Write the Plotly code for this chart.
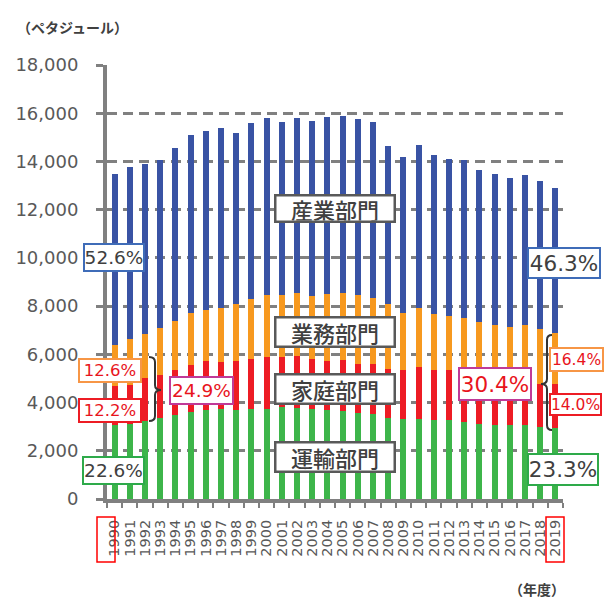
import plotly.graph_objects as go

years = [str(y) for y in range(1990, 2020)]
# energy consumption by sector (PJ)
transport = [3050, 3100, 3240, 3340, 3480, 3590, 3710, 3730, 3710, 3750,
             3750, 3820, 3780, 3730, 3710, 3640, 3570, 3510, 3370, 3310,
             3330, 3260, 3280, 3190, 3120, 3080, 3060, 3050, 2990, 2950]
household = [1620, 1640, 1760, 1790, 1860, 1960, 2000, 1950, 2000, 2050,
             2140, 2070, 2140, 2070, 2000, 2110, 2050, 2070, 2040, 2030,
             2150, 2080, 2090, 2010, 1930, 1900, 1840, 1900, 1760, 1820]
commercial = [1700, 1900, 1830, 1950, 2040, 2160, 2130, 2260, 2380, 2490,
              2560, 2560, 2610, 2600, 2780, 2790, 2830, 2770, 2660, 2390,
              2430, 2350, 2220, 2320, 2280, 2220, 2220, 2250, 2290, 2110]
industry = [7130, 7120, 7070, 6980, 7180, 7390, 7440, 7430, 7090, 7290,
            7350, 7170, 7280, 7290, 7370, 7330, 7310, 7300, 6590, 6470,
            6770, 6580, 6510, 6540, 6320, 6280, 6200, 6240, 6140, 6020]

series_names = ["運輸部門", "家庭部門", "業務部門", "産業部門"]
colors = ["#3DB54A", "#ED1C24", "#F7991F", "#3953A4"]

W, H = 614, 598
ML, MR, MT, MB = 107, 51, 65, 99


def px(x):
    return (x - ML) / (W - ML - MR)


def py(y):
    return (H - MB - y) / (H - MT - MB)


NUMFONT = "DejaVu Sans"
JPFONT = "Noto Sans CJK JP"

fig = go.Figure()
for name, vals, col in zip(series_names, [transport, household, commercial, industry], colors):
    fig.add_trace(go.Bar(x=years, y=vals, name=name, marker=dict(color=col, line=dict(width=0))))

annotations = []
shapes = []


def box(text, x0, x1, y0, y1, border, color, size, font=NUMFONT, bw=2, weight="normal"):
    annotations.append(dict(
        x=px((x0 + x1) / 2), y=py((y0 + y1) / 2), xref="paper", yref="paper",
        xanchor="center", yanchor="middle", text=text, showarrow=False,
        font=dict(family=font, size=size, color=color, weight=weight),
        bgcolor="white", bordercolor=border, borderwidth=bw, borderpad=0,
        width=(x1 - x0) - 2 * bw, height=(y1 - y0) - 2 * bw, align="center", valign="middle"))


GREY_T = "#404040"
RED_T = "#E8141C"
# sector labels
for t, y0, y1 in [("産業部門", 194, 223), ("業務部門", 316, 348), ("家庭部門", 373, 405), ("運輸部門", 441, 473)]:
    box(t, 274, 396, y0, y1, "#595959", GREY_T, 22, JPFONT, bw=2.5, weight=500)

# percentage labels
box("52.6%", 83, 145, 243, 272, "#3F6CB8", GREY_T, 18.5)
box("12.6%", 78, 142, 358, 383, "#F79646", RED_T, 16.5)
box("12.2%", 78, 142, 398, 423, "#ED1C24", RED_T, 16.5)
box("22.6%", 82, 145, 456, 485, "#2EAA4A", GREY_T, 18.5)
box("24.9%", 169, 234, 376, 405, "#C03A98", RED_T, 18.5)
box("46.3%", 527, 601, 247, 279, "#3F6CB8", GREY_T, 21.5)
box("16.4%", 549, 604, 347, 372, "#F79646", RED_T, 15.5)
box("14.0%", 549, 602, 393, 416, "#ED1C24", RED_T, 15.5)
box("30.4%", 458, 532, 367, 401, "#C03A98", RED_T, 21.5)
box("23.3%", 527, 599, 453, 486, "#2EAA4A", GREY_T, 21.5)

annotations.append(dict(x=px(72), y=py(27), xref="paper", yref="paper", xanchor="center", yanchor="middle",
                        text="<b>（ペタジュール）</b>", showarrow=False,
                        font=dict(family=JPFONT, size=14, color=GREY_T)))
annotations.append(dict(x=px(537), y=py(589), xref="paper", yref="paper", xanchor="center", yanchor="middle",
                        text="<b>（年度）</b>", showarrow=False,
                        font=dict(family=JPFONT, size=14, color=GREY_T)))


def brace_path(pts):
    out = []
    for cmd, coords in pts:
        s = " ".join(f"{px(coords[i]):.5f},{py(coords[i + 1]):.5f}" for i in range(0, len(coords), 2))
        out.append(f"{cmd} {s}")
    return " ".join(out)


# right-pointing brace (left side)
p1 = brace_path([("M", [149, 357]), ("Q", [155, 357, 155, 362]), ("L", [155, 385]),
                 ("Q", [155, 390, 161, 390]), ("Q", [155, 390, 155, 395]), ("L", [155, 416]),
                 ("Q", [155, 421, 149, 421])])
# left-pointing brace (right side)
p2 = brace_path([("M", [552, 335]), ("Q", [547, 335, 547, 340]), ("L", [547, 379]),
                 ("Q", [547, 384, 541, 384]), ("Q", [547, 384, 547, 389]), ("L", [547, 425]),
                 ("Q", [547, 430, 552, 430])])
for p in (p1, p2):
    shapes.append(dict(type="path", path=p, xref="paper", yref="paper", line=dict(color="#333333", width=2)))

# red boxes around first and last year labels
for x0, x1 in [(97, 115), (546, 564)]:
    shapes.append(dict(type="rect", xref="paper", yref="paper", x0=px(x0), x1=px(x1), y0=py(517), y1=py(562),
                       line=dict(color="#FF0000", width=1.5), fillcolor="rgba(0,0,0,0)"))

fig.update_layout(
    barmode="stack", bargap=0.6, showlegend=False,
    width=W, height=H, margin=dict(l=ML, r=MR, t=MT, b=MB, autoexpand=False),
    paper_bgcolor="white", plot_bgcolor="white",
    annotations=annotations, shapes=shapes,
    xaxis=dict(type="category", tickmode="array", tickvals=years, ticktext=years, tickangle=-90,
               showline=True, linecolor="#808080", linewidth=4,
               ticks="outside", tickson="boundaries", ticklen=5, tickwidth=2, tickcolor="#808080",
               tickfont=dict(family=NUMFONT, size=14.5, color="#595959"), ticklabelstandoff=11,
               showgrid=False, fixedrange=True),
    yaxis=dict(range=[0, 18000], dtick=2000, tickformat=",", showline=True, linecolor="#808080", linewidth=4,
               ticks="outside", ticklen=7, tickwidth=3, tickcolor="#808080",
               tickfont=dict(family=NUMFONT, size=18, color="#595959"), ticklabelstandoff=14,
               showgrid=True, gridcolor="#808080", gridwidth=3, griddash="10px,6px",
               zeroline=False, fixedrange=True),
)

fig.write_html("out.html")
